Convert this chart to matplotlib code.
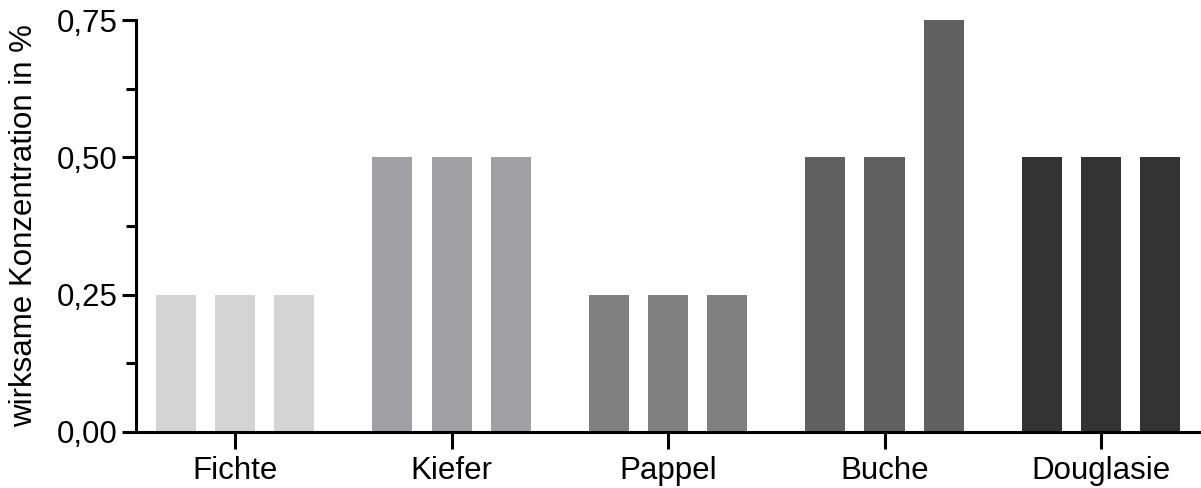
import numpy as np
import matplotlib.pyplot as plt
from matplotlib.ticker import MultipleLocator, FuncFormatter

plt.rcParams['font.family'] = ['Liberation Sans', 'DejaVu Sans']

holzarten = ["Fichte", "Kiefer", "Pappel", "Buche", "Douglasie"]
messung_1 = [0.25, 0.50, 0.25, 0.50, 0.50]
messung_2 = [0.25, 0.50, 0.25, 0.50, 0.50]
messung_3 = [0.25, 0.50, 0.25, 0.75, 0.50]
farben = ["#d4d4d4", "#a1a0a5", "#808080", "#606060", "#333333"]

fig = plt.figure(figsize=(12.01, 4.88), dpi=100)
ax = fig.add_axes([0.1132, 0.1148, 0.8868, 0.8442])

x = np.arange(len(holzarten))
abstand = 0.273
breite = 0.185
for versatz, werte in zip([-abstand, 0, abstand], [messung_1, messung_2, messung_3]):
    ax.bar(x + versatz, werte, width=breite, color=farben, linewidth=0)

ax.set_xlim(-0.458, 4.462)
ax.set_ylim(0, 0.75)
ax.set_xticks(x)
ax.set_xticklabels(holzarten, fontsize=22.5)
ax.yaxis.set_major_locator(MultipleLocator(0.25))
ax.yaxis.set_minor_locator(MultipleLocator(0.125))
ax.yaxis.set_major_formatter(FuncFormatter(lambda v, p: f"{v:.2f}".replace(".", ",")))
ax.tick_params(axis='y', labelsize=22.5)
ax.set_ylabel("wirksame Konzentration in %", fontsize=22.5, labelpad=13)

for s in ["top", "right"]:
    ax.spines[s].set_visible(False)
for s in ["left", "bottom"]:
    ax.spines[s].set_linewidth(2.2)
ax.tick_params(axis='y', which='major', length=10, width=2.2, pad=3)
ax.tick_params(axis='y', which='minor', length=7, width=2.2)
ax.tick_params(axis='x', which='major', length=12, width=2.2, pad=5)

fig.savefig("out.png", dpi=100)
